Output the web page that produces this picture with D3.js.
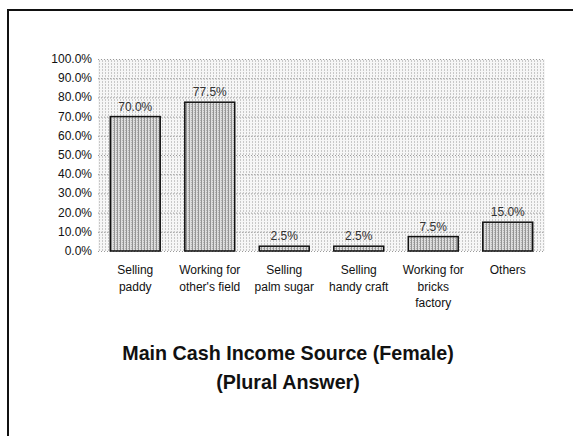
<!DOCTYPE html>
<html>
<head>
<meta charset="utf-8">
<script src="https://cdn.jsdelivr.net/npm/d3@7"></script>
<style>
  html, body { margin: 0; padding: 0; background: #fff; }
  svg { display: block; font-family: "Liberation Sans", Arial, sans-serif; }
  .tick-lbl { font-size: 12px; fill: #111; }
  .cat-lbl { font-size: 12px; fill: #111; }
  .val-lbl { font-size: 12px; fill: #333; }
  .title { font-size: 19.7px; font-weight: bold; fill: #111; }
</style>
</head>
<body>
<div id="chart"></div>
<script>
// data
const categories = [
  ["Selling", "paddy"],
  ["Working for", "other's field"],
  ["Selling", "palm sugar"],
  ["Selling", "handy craft"],
  ["Working for", "bricks", "factory"],
  ["Others"]
];
const values = [70.0, 77.5, 2.5, 2.5, 7.5, 15.0];
const yTicks = [0, 10, 20, 30, 40, 50, 60, 70, 80, 90, 100];
const titleLines = ["Main Cash Income Source (Female)", "(Plural Answer)"];

const W = 573, H = 436;
const m = { top: 59, right: 28, bottom: 185, left: 98 };

const svg = d3.select("#chart").append("svg")
  .attr("width", W).attr("height", H).attr("viewBox", `0 0 ${W} ${H}`);

// halftone-ish fills, like the scanned original
const defs = svg.append("defs");
const bg = defs.append("pattern").attr("id", "bgPat").attr("patternUnits", "userSpaceOnUse")
  .attr("width", 3).attr("height", 3);
bg.append("rect").attr("width", 3).attr("height", 3).attr("fill", "#f6f6f6");
bg.append("rect").attr("width", 1).attr("height", 2).attr("fill", "#c8c8c8");
const bp = defs.append("pattern").attr("id", "barPat").attr("patternUnits", "userSpaceOnUse")
  .attr("width", 3).attr("height", 2);
bp.append("rect").attr("width", 3).attr("height", 2).attr("fill", "#dedede");
bp.append("rect").attr("width", 1).attr("height", 2).attr("fill", "#959595");
bp.append("rect").attr("x", 2).attr("width", 1).attr("height", 1).attr("fill", "#b4b4b4");

// page frame (left + top edge visible)
svg.append("path").attr("d", `M8,${H} V10 H${W}`)
  .attr("fill", "none").attr("stroke", "#111").attr("stroke-width", 2);

const x = d3.scaleBand().domain(d3.range(categories.length))
  .range([m.left, W - m.right]).paddingInner(0.33).paddingOuter(0.165);
const y = d3.scaleLinear().domain([0, 100]).range([H - m.bottom, m.top]);

// plot area
svg.append("rect").attr("x", m.left).attr("y", y(100))
  .attr("width", W - m.right - m.left).attr("height", y(0) - y(100))
  .attr("fill", "url(#bgPat)");

// gridlines
svg.append("g").selectAll("line").data(yTicks).join("line")
  .attr("x1", m.left).attr("x2", W - m.right)
  .attr("y1", (d) => y(d) + 0.5).attr("y2", (d) => y(d) + 0.5)
  .attr("stroke", "#9a9a9a").attr("stroke-dasharray", "1,2");

// y tick labels
svg.append("g").selectAll("text").data(yTicks).join("text")
  .attr("class", "tick-lbl").attr("x", m.left - 6).attr("y", (d) => y(d) + 4)
  .attr("text-anchor", "end").text((d) => d.toFixed(1) + "%");

// bars
svg.append("g").selectAll("rect").data(values).join("rect")
  .attr("x", (d, i) => x(i)).attr("y", (d) => y(d))
  .attr("width", x.bandwidth()).attr("height", (d) => y(0) - y(d))
  .attr("fill", "url(#barPat)").attr("stroke", "#111").attr("stroke-width", 1.5);

// value labels
svg.append("g").selectAll("text").data(values).join("text")
  .attr("class", "val-lbl").attr("x", (d, i) => x(i) + x.bandwidth() / 2)
  .attr("y", (d) => y(d) - 6).attr("text-anchor", "middle")
  .text((d) => d.toFixed(1) + "%");

// category labels
const cl = svg.append("g").selectAll("text").data(categories).join("text")
  .attr("class", "cat-lbl").attr("text-anchor", "middle")
  .attr("x", (d, i) => x(i) + x.bandwidth() / 2).attr("y", y(0) + 23);
cl.selectAll("tspan").data((d) => d).join("tspan")
  .attr("x", function () { return d3.select(this.parentNode).attr("x"); })
  .attr("dy", (d, i) => (i === 0 ? 0 : 16.5)).text((d) => d);

// title
svg.append("g").selectAll("text").data(titleLines).join("text")
  .attr("class", "title").attr("text-anchor", "middle")
  .attr("x", 288).attr("y", (d, i) => 360 + i * 29).text((d) => d);
</script>
</body>
</html>
